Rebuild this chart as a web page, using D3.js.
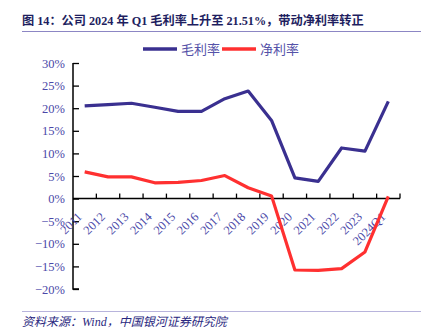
<!DOCTYPE html>
<html><head><meta charset="utf-8">
<script src="https://cdn.jsdelivr.net/npm/d3@7"></script>
<style>body{margin:0;background:#fff}svg{display:block}</style>
</head><body>
<svg id="c" width="430" height="336"></svg>
<script>
const categories = ["2011","2012","2013","2014","2015","2016","2017","2018","2019","2020","2021","2022","2023","2024Q1"];
const grossMargin = [20.5,20.8,21.1,20.2,19.3,19.3,22.1,23.8,17.3,4.6,3.8,11.2,10.5,21.51];
const netMargin = [5.9,4.8,4.8,3.5,3.6,4.0,5.1,2.4,0.6,-15.8,-15.9,-15.5,-11.8,0.5];
const yTicks = [30,25,20,15,10,5,0,-5,-10,-15,-20];
const seriesNames = ["毛利率","净利率"];
const colors = ["#3a3090","#ff3030"];

const svg = d3.select("#c");
const serif = "'Liberation Serif','Times New Roman','Noto Sans CJK SC',serif";

// title
svg.append("text").attr("x",22).attr("y",25)
  .attr("font-family",serif).attr("font-weight","bold").attr("font-size",12.2)
  .attr("fill","#1e1e60").text("图 14：公司 2024 年 Q1 毛利率上升至 21.51%，带动净利率转正");
svg.append("line").attr("x1",22).attr("x2",421).attr("y1",31.5).attr("y2",31.5)
  .attr("stroke","#8c86c4").attr("stroke-width",1);

// footer
svg.append("line").attr("x1",22).attr("x2",421).attr("y1",311.5).attr("y2",311.5)
  .attr("stroke","#b8b4dc").attr("stroke-width",1.2);
svg.append("text").attr("x",22).attr("y",326)
  .attr("font-family",serif).attr("font-style","italic").attr("font-size",12)
  .attr("fill","#2a2880").text("资料来源：Wind，中国银河证券研究院");

const x = d3.scaleBand().domain(categories).range([73,400]);
const y = d3.scaleLinear().domain([-20,30]).range([289,63]);

// y axis
const yAxis = svg.append("g").attr("transform","translate(73,0)")
  .call(d3.axisLeft(y).tickValues(yTicks).tickSize(-6).tickPadding(8).tickFormat(d=>d+"%"));
yAxis.select(".domain").attr("stroke","#000").attr("stroke-width",1.5).attr("d","M0,"+y(30)+"V"+y(-20)+"H6");
yAxis.selectAll(".tick line").attr("stroke","#000").attr("stroke-width",1.3);
yAxis.selectAll(".tick text").attr("font-family",serif).attr("font-size",12.5).attr("fill","#4a48a8")
  .text(d=> d<0 ? "\u2212"+(-d)+"%" : d+"%").attr("x",-8);

// x axis at 0
const xAxis = svg.append("g").attr("transform","translate(0,"+y(0)+")");
xAxis.append("line").attr("x1",73).attr("x2",400).attr("stroke","#000").attr("stroke-width",1.5);
const bounds = categories.map(c=>x(c)+x.bandwidth());
xAxis.selectAll("line.t").data(bounds).join("line").attr("class","t")
  .attr("x1",d=>d).attr("x2",d=>d).attr("y1",0).attr("y2",-5).attr("stroke","#000").attr("stroke-width",1.3);
xAxis.selectAll("text").data(categories).join("text")
  .attr("transform",d=>"translate("+(x(d)+x.bandwidth()/2-2)+",19) rotate(-45)")
  .attr("text-anchor","end")
  .attr("font-family",serif).attr("font-size",12.5).attr("fill","#4a48a8")
  .text(d=>d);

// lines
const line = d3.line().x((d,i)=>x(categories[i])+x.bandwidth()/2).y(d=>y(d));
[grossMargin, netMargin].forEach((s,k)=>{
  svg.append("path").datum(s).attr("d",line).attr("fill","none")
    .attr("stroke",colors[k]).attr("stroke-width",3.2).attr("stroke-linejoin","round");
});

// legend
const lg = svg.append("g").attr("transform","translate(143,49)");
const lx = [0,79];
seriesNames.forEach((n,k)=>{
  lg.append("line").attr("x1",lx[k]).attr("x2",lx[k]+34).attr("y1",0).attr("y2",0)
    .attr("stroke",colors[k]).attr("stroke-width",3.5);
  lg.append("text").attr("x",lx[k]+38).attr("y",5).attr("font-family","'Noto Sans CJK SC',sans-serif")
    .attr("font-size",13).attr("fill","#5552a8").text(n);
});
</script>
</body></html>
